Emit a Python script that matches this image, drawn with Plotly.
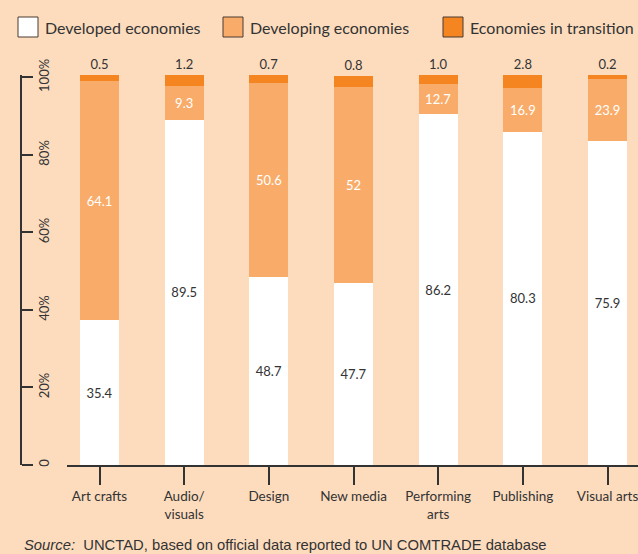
import plotly.graph_objects as go

categories = ["Art crafts", "Audio/<br>visuals", "Design", "New media",
              "Performing<br>arts", "Publishing", "Visual arts"]

# bar heights as drawn in the picture (share, %)
developed = [37.3, 89.0, 48.6, 47.0, 90.5, 85.9, 83.5]
developing = [61.7, 8.7, 49.9, 50.4, 7.7, 11.3, 16.0]
transition = [1.5, 2.8, 2.0, 3.0, 2.3, 3.3, 1.0]

# numbers printed on the bars
developed_lbl = ["35.4", "89.5", "48.7", "47.7", "86.2", "80.3", "75.9"]
developing_lbl = ["64.1", "9.3", "50.6", "52", "12.7", "16.9", "23.9"]
transition_lbl = ["0.5", "1.2", "0.7", "0.8", "1.0", "2.8", "0.2"]

y_ticks = [0, 20, 40, 60, 80, 100]
y_ticktext = ["0", "20%", "40%", "60%", "80%", "100%"]

BG = "#FDDCBE"
LIGHT = "#F9AC69"
DARK = "#F48521"
INK = "#333333"
FONT = "Lato"

W, H = 638, 554
L, R, T, B = 21, 0, 75, 89


def px_x(p):
    return (p - L) / (W - L - R)


def px_y(p):
    return (H - B - p) / (H - T - B)


fig = go.Figure()
fig.add_trace(go.Bar(x=categories, y=developed, name="Developed economies",
                     marker_color="#ffffff", text=developed_lbl,
                     textposition="inside", insidetextanchor="middle",
                     textfont=dict(color=INK, size=13, family=FONT)))
fig.add_trace(go.Bar(x=categories, y=developing, name="Developing economies",
                     marker_color=LIGHT, text=developing_lbl,
                     textposition="inside", insidetextanchor="middle",
                     textfont=dict(color="#ffffff", size=13, family=FONT)))
fig.add_trace(go.Bar(x=categories, y=transition, name="Economies in transition",
                     marker_color=DARK, text=transition_lbl,
                     textposition="outside", cliponaxis=False,
                     textfont=dict(color=INK, size=13, family=FONT)))
fig.update_traces(marker_line_width=0, textangle=0, constraintext="none")

fig.update_layout(
    width=W, height=H,
    barmode="stack", bargap=0.54,
    paper_bgcolor=BG, plot_bgcolor=BG,
    showlegend=False,
    margin=dict(l=L, r=R, t=T, b=B),
    font=dict(family=FONT, color=INK, size=13),
    xaxis=dict(domain=[px_x(67), 1], range=[-0.384, 6.36],
               showline=True, linecolor=INK, linewidth=2,
               ticks="outside", ticklen=18, tickwidth=2, tickcolor=INK,
               showgrid=False, tickfont=dict(size=13.5, family=FONT)),
    yaxis=dict(range=[0, 100.6], anchor="free", position=0, side="right",
               showline=True, linecolor=INK, linewidth=2,
               ticks="outside", ticklen=11, tickwidth=2, tickcolor=INK,
               tickvals=y_ticks, ticktext=y_ticktext, tickangle=-90,
               showgrid=False, zeroline=False,
               tickfont=dict(size=13, family=FONT)),
)

# legend drawn by hand: outlined boxes + labels
legend_items = [("Developed economies", "#ffffff", 18),
                ("Developing economies", LIGHT, 223),
                ("Economies in transition", DARK, 443)]
for label, col, x0 in legend_items:
    fig.add_shape(type="rect", xref="paper", yref="paper",
                  x0=px_x(x0), x1=px_x(x0 + 20), y0=px_y(37), y1=px_y(17),
                  fillcolor=col, line=dict(color="#4a3a30", width=1))
    fig.add_annotation(text=label, xref="paper", yref="paper",
                       x=px_x(x0 + 25), y=px_y(27), xanchor="left",
                       yanchor="middle", showarrow=False,
                       font=dict(size=16, family=FONT, color=INK))

fig.add_annotation(text="<i>Source:</i>  UNCTAD, based on official data reported to UN COMTRADE database",
                   xref="paper", yref="paper", x=px_x(22), y=px_y(545),
                   xanchor="left", yanchor="middle", showarrow=False,
                   font=dict(size=14.8, family="Liberation Sans", color=INK))

# drop the page's default body margin so the figure sits at the window corner
fig.write_html("out.html", config={"displayModeBar": False},
               post_script="document.body.style.margin='0';")
